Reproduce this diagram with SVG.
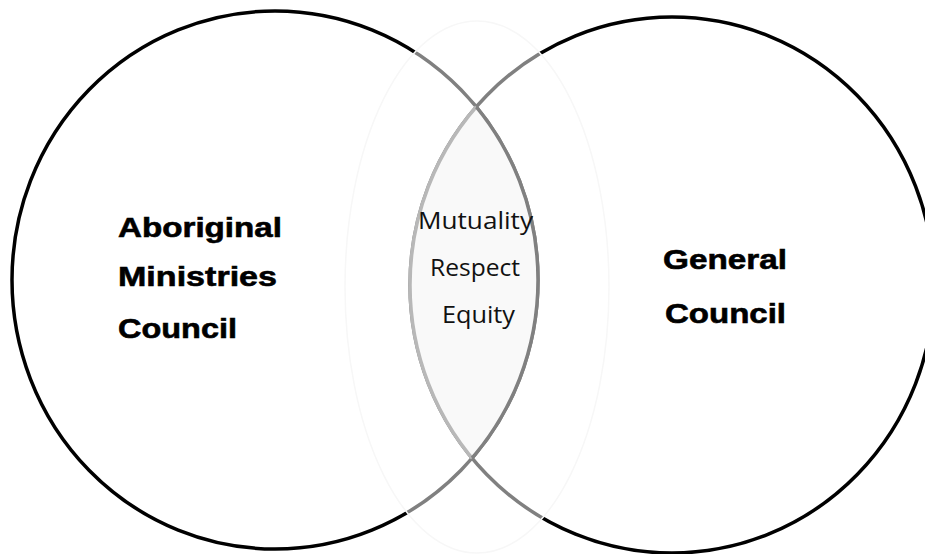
<svg xmlns="http://www.w3.org/2000/svg" width="925" height="554" viewBox="0 0 925 554">
<style>
.circ{fill:none;stroke:#000;stroke-width:3.5}
.big{font-family:"Liberation Sans",Arial,sans-serif;font-weight:bold;font-size:28.5px;fill:#000;stroke:#000;stroke-width:0.6}
.mid{font-family:"Open Sans","Noto Sans",sans-serif;font-size:24px;fill:#111}
</style>
<defs>
<clipPath id="inL"><ellipse cx="275" cy="280" rx="263" ry="269"/></clipPath>
<clipPath id="inR"><ellipse cx="672" cy="285" rx="262" ry="268"/></clipPath>
</defs>
<rect width="925" height="554" fill="#fff"/>
<g id="circle-left">
<ellipse class="circ" cx="275" cy="280" rx="263" ry="269"/>
</g>
<g id="circle-right">
<ellipse class="circ" cx="672" cy="285" rx="262" ry="268"/>
</g>
<g id="ghost">
<ellipse cx="477" cy="287" rx="132" ry="266" fill="#fff" fill-opacity="0.5" stroke="#f7f7f7" stroke-width="1.5"/>
</g>
<g id="overlap">
<ellipse cx="672" cy="285" rx="262" ry="268" fill="#f9f9f9" stroke="#b8b8b8" stroke-width="3.5" clip-path="url(#inL)"/>
<ellipse cx="275" cy="280" rx="263" ry="269" fill="none" stroke="#808080" stroke-width="3.5" clip-path="url(#inR)"/>
</g>
<g id="label-left">
<text class="big" x="118" y="237" textLength="164" lengthAdjust="spacingAndGlyphs">Aboriginal</text>
<text class="big" x="118" y="286" textLength="159" lengthAdjust="spacingAndGlyphs">Ministries</text>
<text class="big" x="118" y="338" textLength="119" lengthAdjust="spacingAndGlyphs">Council</text>
</g>
<g id="label-right">
<text class="big" x="663" y="269" textLength="124" lengthAdjust="spacingAndGlyphs">General</text>
<text class="big" x="665" y="323" textLength="121" lengthAdjust="spacingAndGlyphs">Council</text>
</g>
<g id="label-middle">
<text class="mid" x="418" y="229" textLength="115" lengthAdjust="spacingAndGlyphs">Mutuality</text>
<text class="mid" x="430" y="276" textLength="90" lengthAdjust="spacingAndGlyphs">Respect</text>
<text class="mid" x="442" y="323" textLength="73" lengthAdjust="spacingAndGlyphs">Equity</text>
</g>
</svg>
